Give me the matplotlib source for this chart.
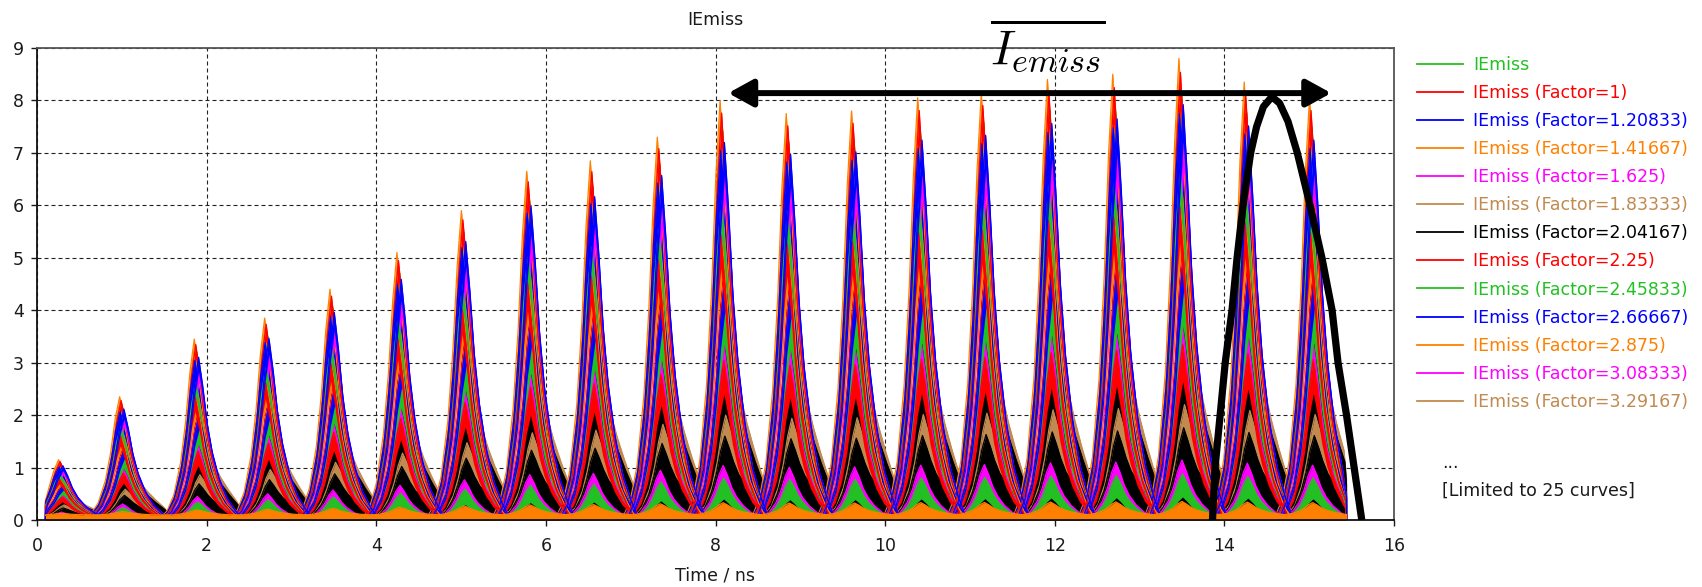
import numpy as np
import matplotlib
matplotlib.use("Agg")
import matplotlib.pyplot as plt
from matplotlib.lines import Line2D

# ---------------- data ----------------
peak_times = [0.29, 1.01, 1.89, 2.72, 3.49, 4.28, 5.04, 5.81, 6.56, 7.35,
              8.09, 8.87, 9.64, 10.42, 11.17, 11.95, 12.72, 13.50, 14.27, 15.04]
peak_heights = [1.15, 2.35, 3.45, 3.85, 4.4, 5.1, 5.9, 6.65, 6.85, 7.3,
                8.0, 7.75, 7.8, 8.05, 8.15, 8.4, 8.5, 8.8, 8.35, 8.05]
pulse_widths = [1.1, 1.05, 1.0, 1.0, 1.0, 1.0, 1.0, 1.0, 1.0, 1.0,
                1.0, 1.0, 1.0, 1.0, 1.0, 1.0, 1.0, 1.0, 1.0, 1.0]

# normalised pulse shape (offset from peak in ns, relative amplitude)
profile_offsets = [-0.42, -0.32, -0.24, -0.16, -0.10, -0.05, 0.0, 0.05,
                   0.10, 0.16, 0.24, 0.33, 0.43, 0.53]
profile_fast = [0.0, 0.05, 0.14, 0.32, 0.55, 0.82, 1.0, 0.82,
                0.60, 0.42, 0.26, 0.14, 0.06, 0.0]
profile_slow = [0.0, 0.05, 0.14, 0.32, 0.55, 0.82, 1.0, 0.86,
                0.70, 0.55, 0.42, 0.30, 0.18, 0.0]

curve_colors = ["#22c022", "#ff0000", "#0000ff", "#ff8000", "#ff00ff", "#c08a50", "#000000",
                "#ff0000", "#22c022", "#0000ff", "#ff8000", "#ff00ff", "#c08a50",
                "#000000", "#ff0000", "#22c022", "#0000ff", "#ff8000", "#ff00ff", "#c08a50",
                "#000000", "#ff0000", "#22c022", "#0000ff", "#ff8000"]
curve_delay = [-0.006, 0.018, -0.024, -0.036, 0.006, 0.04, 0.045, -0.018, 0.012, -0.03,
               0.0, 0.024, 0.035, 0.05, 0.009, -0.021, 0.021, -0.012, 0.0, 0.03,
               0.02, -0.027, 0.006, 0.015, 0.0]
curve_gain = [0.93, 0.62, 0.80, 1.00, 0.42, 0.55, 0.35, 0.97, 0.50, 0.88,
              0.72, 0.84, 0.30, 0.46, 0.38, 0.76, 0.58, 0.66, 0.13, 0.25,
              0.20, 0.68, 0.10, 0.90, 0.03]
curve_band = [0.08, 0.08, 0.08, 0.08, 0.08, 0.55, 0.35, 0.08, 0.08, 0.08,
              0.08, 0.08, 0.30, 0.46, 0.08, 0.08, 0.08, 0.08, 0.06, 0.25,
              0.20, 0.08, 0.05, 0.08, 0.03]
curve_slow_tail = [0, 0, 0, 0, 0, 1, 1, 0, 0, 0, 0, 0, 1,
                   1, 0, 0, 0, 0, 0, 1, 1, 0, 0, 0, 0]
curve_floor = [0.0] * 24 + [0.09]
t_start, t_end = 0.1, 15.44

legend_labels = ["IEmiss", "IEmiss (Factor=1)", "IEmiss (Factor=1.20833)",
                 "IEmiss (Factor=1.41667)", "IEmiss (Factor=1.625)",
                 "IEmiss (Factor=1.83333)", "IEmiss (Factor=2.04167)",
                 "IEmiss (Factor=2.25)", "IEmiss (Factor=2.45833)",
                 "IEmiss (Factor=2.66667)", "IEmiss (Factor=2.875)",
                 "IEmiss (Factor=3.08333)", "IEmiss (Factor=3.29167)"]

# hand-drawn annotation
bell_t = [13.86, 13.89, 13.95, 14.01, 14.09, 14.15, 14.22, 14.31, 14.38, 14.46,
          14.56, 14.65, 14.75, 14.86, 15.01, 15.15, 15.27, 15.34, 15.44, 15.53, 15.62]
bell_y = [0.0, 1.0, 2.0, 3.0, 4.0, 5.0, 6.0, 7.0, 7.5, 7.88,
          8.07, 7.95, 7.6, 7.0, 6.0, 5.0, 4.0, 3.0, 2.0, 1.0, 0.0]
arrow_x = [8.15, 15.26]
arrow_y = 8.14

# ---------------- figure ----------------
plt.rcParams["font.family"] = ["DejaVu Sans"]
plt.rcParams["font.size"] = 12.5
plt.rcParams["mathtext.fontset"] = "cm"

W, H = 1702, 587
fig = plt.figure(figsize=(W / 100, H / 100), dpi=100)
ax = fig.add_axes([37 / W, 1 - 520 / H, (1394 - 37) / W, (520 - 48) / H])

offs = np.array(profile_offsets)
for i in range(len(curve_colors)):
    prof = np.array(profile_slow if curve_slow_tail[i] else profile_fast)
    z = 1.9 if curve_slow_tail[i] else 2 + i * 0.01
    for k in range(len(peak_times)):
        x = peak_times[k] + curve_delay[i] + offs * pulse_widths[k]
        x = np.clip(x, t_start, t_end)
        amp = peak_heights[k] * prof
        y = curve_floor[i] + curve_gain[i] * amp
        lo = max(curve_gain[i] - curve_band[i], 0.0) * amp
        ax.fill_between(x, lo, y, color=curve_colors[i], lw=0, zorder=z)
        ax.plot(x, y, color=curve_colors[i], lw=0.9, zorder=z)

ax.plot(bell_t, bell_y, color="black", lw=5.2, solid_capstyle="butt",
        solid_joinstyle="round", zorder=10)
ax.annotate("", xy=(arrow_x[0], arrow_y), xytext=(arrow_x[1], arrow_y),
            arrowprops=dict(arrowstyle="<|-|>,head_length=0.6,head_width=0.33",
                            mutation_scale=25, lw=4.3, color="black",
                            shrinkA=0, shrinkB=0), zorder=11)

ax.set_xlim(0, 16)
ax.set_ylim(0, 9)
ax.set_xticks(range(0, 17, 2))
ax.set_yticks(range(0, 10))
ax.set_axisbelow(True)
ax.grid(True, color="#222222", lw=0.8, linestyle=(0, (3.6, 2.7)))
ax.tick_params(direction="out", length=4, width=1, pad=5.5, colors="#1a1a1a",
               labelsize=12.5)
ax.tick_params(axis="x", pad=8)
for s in ["left", "bottom"]:
    ax.spines[s].set_color("#111111")
    ax.spines[s].set_linewidth(1.3)
for s in ["top", "right"]:
    ax.spines[s].set_color("#555555")
    ax.spines[s].set_linewidth(1.3)

fig.text(715 / W, 1 - 20 / H, "IEmiss", ha="center", va="center", fontsize=12.5,
         color="#1a1a1a")
fig.text(715 / W, 1 - 576 / H, "Time / ns", ha="center", va="center", fontsize=12.5,
         color="#1a1a1a")
fig.text(1048 / W, 1 - 45 / H, r"$\overline{I_{emiss}}$", ha="center", va="center",
         fontsize=35, color="black", zorder=12)

handles = [Line2D([0], [0], color=c, lw=1.3) for c in curve_colors[:len(legend_labels)]]
leg = fig.legend(handles, legend_labels, loc="upper left",
                 bbox_to_anchor=(1417 / W, 1 - 56 / H), frameon=False,
                 borderpad=0, borderaxespad=0, handlelength=2.65,
                 handletextpad=0.58, labelspacing=0.58, fontsize=12.5,
                 labelcolor=curve_colors[:len(legend_labels)])
fig.text(1442 / W, 1 - 463 / H, "...", ha="left", va="center", fontsize=12.5,
         color="#1a1a1a")
fig.text(1442 / W, 1 - 491 / H, "[Limited to 25 curves]", ha="left", va="center",
         fontsize=12.5, color="#1a1a1a")

fig.savefig("out.png", dpi=100)
